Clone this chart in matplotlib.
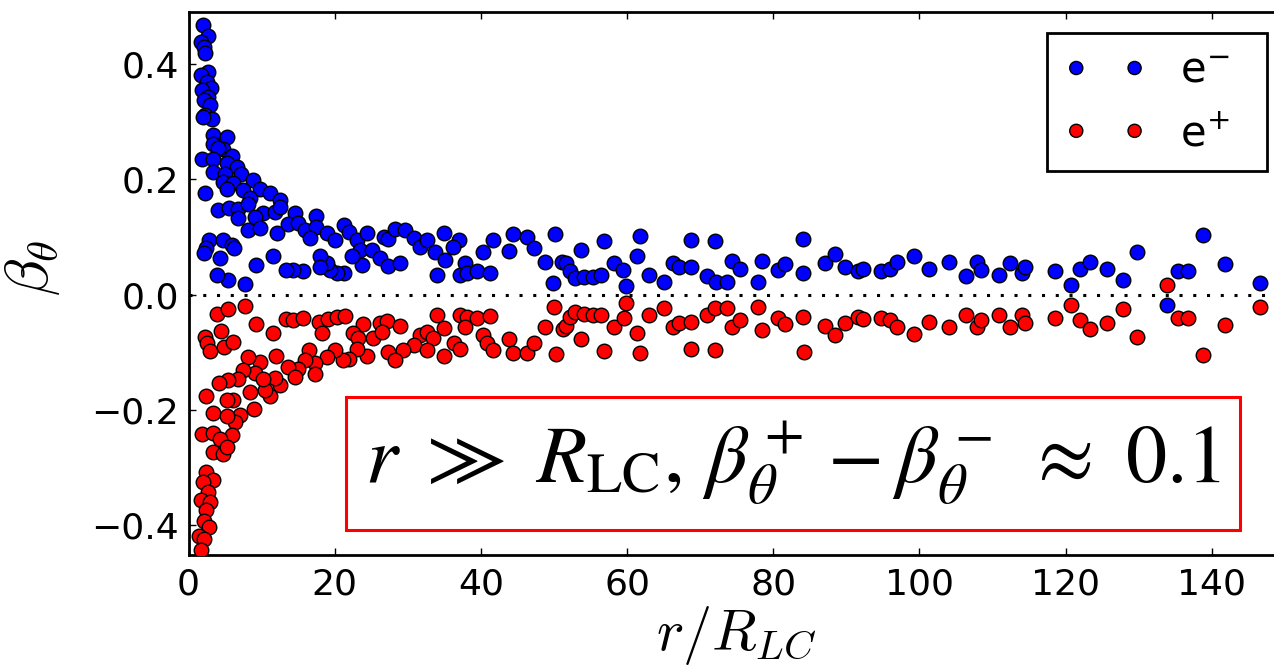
import matplotlib
matplotlib.use("Agg")
import matplotlib.pyplot as plt
from matplotlib.patches import Rectangle

# e- (blue) : r / R_LC and beta_theta
r_elec = [1.94, 2.7, 1.67, 2.12, 2.26, 2.71, 1.67, 2.49, 3.03, 1.8, 2.71, 2.12, 2.94, 2.26, 3.17, 2.03,
          3.39, 5.2, 3.3, 4.67, 4.08, 5.9, 1.8, 3.3, 5.2, 6.6, 3.39, 5.0, 7.14, 8.87, 4.76, 6.13, 2.26,
          5.22, 7.5, 9.78, 11.15, 8.41, 12.5, 4.08, 5.58, 6.8, 8.18, 10.2, 11.8, 12.5, 6.8, 9.1, 14.6,
          8.18, 9.78, 12.06, 13.65, 15.0, 15.9, 17.4, 17.5, 16.6, 18.9, 20.0, 21.2, 21.9, 23.0, 24.4,
          23.5, 25.1, 26.7, 27.3, 28.2, 29.6, 30.8, 31.7, 32.6, 26.2, 27.3, 28.9, 23.7, 22.3, 21.2,
          20.3, 19.4, 18.9, 18.0, 18.0, 15.7, 14.3, 13.3, 11.5, 9.2, 7.7, 5.45, 3.94, 4.3, 2.85, 2.4,
          2.12, 4.76, 5.9, 6.2,
          34.9, 33.7, 37.0, 36.2, 35.1, 34.0, 37.8, 37.1, 38.1, 39.4, 41.2, 40.3, 41.6, 43.8, 44.4,
          46.3, 47.2, 48.8, 50.1, 49.9, 51.1, 51.7, 52.2, 52.9, 53.7, 54.1, 55.3, 56.4, 56.8, 58.2,
          59.5, 59.9, 61.3, 61.7, 63.0, 65.0, 66.3, 67.1, 68.7, 68.8, 70.9, 72.0, 72.2, 73.6, 74.4,
          75.5, 77.9, 78.4, 80.7, 81.6, 84.0, 84.0, 87.1, 88.4, 89.8,
          91.6, 92.3, 94.7, 96.0, 96.9, 99.2, 101.3, 104.1, 106.4, 107.9, 108.4, 110.9, 112.4, 114.0,
          114.4, 118.5, 120.7, 121.9, 123.3, 125.6, 127.9, 129.8, 133.9, 135.4, 136.8, 138.8, 141.8,
          146.6]
beta_elec = [0.468, 0.448, 0.439, 0.430, 0.419, 0.387, 0.381, 0.369, 0.358, 0.355, 0.343, 0.338, 0.329,
             0.312, 0.304, 0.309, 0.277, 0.273, 0.262, 0.252, 0.254, 0.240, 0.236, 0.236, 0.228, 0.222,
             0.213, 0.210, 0.209, 0.199, 0.196, 0.194, 0.176, 0.184, 0.181, 0.184, 0.177, 0.167, 0.164,
             0.147, 0.150, 0.148, 0.157, 0.141, 0.144, 0.152, 0.132, 0.135, 0.142, 0.112, 0.115, 0.107,
             0.122, 0.124, 0.112, 0.136, 0.118, 0.098, 0.106, 0.095, 0.121, 0.109, 0.095, 0.106, 0.077,
             0.077, 0.099, 0.096, 0.113, 0.112, 0.098, 0.083, 0.095, 0.063, 0.049, 0.054, 0.051, 0.066,
             0.037, 0.037, 0.043, 0.054, 0.066, 0.048, 0.040, 0.043, 0.043, 0.067, 0.051, 0.019, 0.025,
             0.034, 0.063, 0.095, 0.080, 0.072, 0.095, 0.086, 0.080,
             0.106, 0.074, 0.095, 0.083, 0.060, 0.034, 0.055, 0.034, 0.037, 0.040, 0.037, 0.074, 0.095,
             0.076, 0.105, 0.099, 0.080, 0.057, 0.105, 0.020, 0.057, 0.054, 0.040, 0.028, 0.077, 0.030,
             0.031, 0.034, 0.093, 0.055, 0.043, 0.014, 0.067, 0.102, 0.034, 0.022, 0.055, 0.048, 0.047,
             0.095, 0.032, 0.093, 0.022, 0.022, 0.059, 0.044, 0.022, 0.059, 0.043, 0.053, 0.096, 0.038,
             0.054, 0.070, 0.047,
             0.041, 0.044, 0.040, 0.044, 0.057, 0.067, 0.045, 0.057, 0.032, 0.057, 0.043, 0.034, 0.055,
             0.037, 0.048, 0.040, 0.016, 0.044, 0.057, 0.045, 0.025, 0.074, -0.018, 0.040, 0.040, 0.103,
             0.053, 0.020]

# e+ (red)
r_posi = [3.86, 5.45, 7.73, 4.4, 9.23, 11.5, 2.26, 2.57, 2.94, 4.86, 6.13, 13.3, 14.3, 15.6, 17.9, 18.2,
          19.1, 20.3, 21.4, 23.8, 22.5, 23.2, 25.3, 26.2, 27.1, 28.9, 26.4, 31.7, 30.8, 32.6, 33.5, 32.6,
          29.4, 27.3, 28.2, 24.4, 23.0, 21.9, 21.1, 20.0, 18.9, 17.3, 17.3, 16.5, 15.9, 15.0, 13.65,
          14.6, 12.0, 12.5, 11.8, 11.15, 10.5, 9.8, 9.1, 10.2, 8.4, 8.9, 8.2, 7.5, 6.8, 6.1, 5.45, 5.2,
          4.1, 7.0, 6.4, 3.4, 5.2, 5.9, 2.4, 1.8, 3.3, 4.3, 3.39, 4.76, 5.2, 2.4, 3.3, 2.0, 2.7, 1.67,
          3.0, 2.4, 2.1, 2.85, 1.48, 2.16, 1.67,
          34.0, 35.0, 34.9, 36.3, 37.1, 37.2, 38.1, 37.8, 39.4, 41.2, 40.3, 40.8, 41.6, 43.8, 44.4,
          46.3, 47.2, 48.8, 50.0, 50.3, 51.2, 51.7, 52.2, 52.9, 54.1, 55.4, 56.4, 53.7, 56.8, 58.2,
          59.6, 59.9, 61.3, 61.7, 63.0, 65.0, 66.3, 67.1, 68.7, 68.8, 70.9, 72.0, 72.0, 73.6, 74.4,
          75.5, 77.9, 78.4, 80.7, 81.6, 84.0, 84.2, 87.1, 88.4, 89.8,
          91.6, 92.3, 94.7, 96.0, 96.9, 99.2, 101.3, 104.1, 106.4, 107.9, 108.4, 110.9, 112.4, 114.0,
          114.4, 118.5, 120.7, 121.9, 123.3, 125.6, 127.9, 129.8, 133.9, 135.4, 136.8, 138.8, 141.8,
          146.6]
beta_posi = [-0.034, -0.026, -0.020, -0.063, -0.051, -0.066, -0.073, -0.084, -0.098, -0.092, -0.082,
             -0.043, -0.044, -0.040, -0.047, -0.066, -0.043, -0.039, -0.037, -0.051, -0.067, -0.076,
             -0.076, -0.050, -0.046, -0.055, -0.065, -0.070, -0.088, -0.065, -0.076, -0.096, -0.096,
             -0.099, -0.114, -0.107, -0.095, -0.112, -0.114, -0.096, -0.108, -0.119, -0.138, -0.096,
             -0.114, -0.130, -0.125, -0.143, -0.107, -0.157, -0.145, -0.177, -0.165, -0.117, -0.136,
             -0.147, -0.169, -0.198, -0.108, -0.131, -0.147, -0.183, -0.148, -0.183, -0.153, -0.209,
             -0.221, -0.206, -0.211, -0.244, -0.176, -0.242, -0.240, -0.250, -0.273, -0.277, -0.264,
             -0.308, -0.322, -0.325, -0.342, -0.356, -0.361, -0.374, -0.393, -0.404, -0.419, -0.425,
             -0.444,
             -0.036, -0.059, -0.107, -0.084, -0.095, -0.036, -0.039, -0.056, -0.040, -0.037, -0.070,
             -0.085, -0.096, -0.078, -0.102, -0.101, -0.084, -0.056, -0.021, -0.103, -0.060, -0.055,
             -0.039, -0.030, -0.033, -0.036, -0.036, -0.078, -0.098, -0.056, -0.041, -0.015, -0.067,
             -0.102, -0.036, -0.024, -0.056, -0.050, -0.047, -0.095, -0.036, -0.024, -0.096, -0.024,
             -0.056, -0.044, -0.021, -0.062, -0.041, -0.051, -0.039, -0.099, -0.055, -0.070, -0.049,
             -0.039, -0.043, -0.040, -0.044, -0.056, -0.069, -0.047, -0.056, -0.036, -0.056, -0.044,
             -0.036, -0.056, -0.036, -0.049, -0.040, -0.018, -0.045, -0.060, -0.049, -0.026, -0.074,
             0.016, -0.040, -0.040, -0.105, -0.053, -0.021]

x_ticks = [0, 20, 40, 60, 80, 100, 120, 140]
y_ticks = [-0.4, -0.2, 0.0, 0.2, 0.4]


def main():
    fig = plt.figure(figsize=(12.74, 6.69), dpi=100)
    # right spine sits just outside the picture, as in the cropped original
    ax = fig.add_axes([0.148, 0.1706, 0.86, 0.8111])

    ax.axhline(0.0, color='black', lw=2.2, linestyle=(0, (1, 3.5)), zorder=1)
    ax.scatter(r_elec, beta_elec, s=110, c='blue', edgecolors='black', linewidths=1.0,
               label=r'$\mathregular{e^{-}}$', zorder=3)
    ax.scatter(r_posi, beta_posi, s=110, c='red', edgecolors='black', linewidths=1.0,
               label=r'$\mathregular{e^{+}}$', zorder=3)

    ax.set_xlim(0, 149.9)
    ax.set_ylim(-0.452, 0.490)
    ax.set_xticks(x_ticks)
    ax.set_yticks(y_ticks)
    ax.tick_params(direction='in', length=5, width=1, top=True, right=True, labelsize=26)
    ax.tick_params(axis='x', pad=9)
    ax.tick_params(axis='y', pad=7)
    for sp in ax.spines.values():
        sp.set_linewidth(2)

    ax.set_xlabel(r'$r/R_{LC}$', fontsize=42, math_fontfamily='cm', labelpad=2)
    ax.set_ylabel(r'$\beta_\theta$', fontsize=44, math_fontfamily='cm')
    ax.yaxis.set_label_coords(-0.1155, 0.529)

    # expand mode gives the wider frame of the original legend
    leg = ax.legend(loc='upper left', bbox_to_anchor=(0.7836, 0.5, 0.2008, 0.4619),
                    mode='expand', borderaxespad=0,
                    scatterpoints=2, scatteryoffsets=[0.5], fontsize=30, fancybox=False,
                    framealpha=1, edgecolor='black', handlelength=2.0, markerscale=0.9,
                    borderpad=0.4, handletextpad=0.8)
    leg.get_frame().set_linewidth(2)

    # red framed annotation
    box = Rectangle((0.1438, 0.0459), 0.8159, 0.2451, transform=ax.transAxes,
                    fc='white', ec='red', lw=2.2, zorder=4)
    ax.add_patch(box)
    ax.text(0.5518, 0.1685,
            r'$r\ \gg\ R_{\mathrm{LC}},\, \beta_\theta^+ - \beta_\theta^-\ \approx\ 0.1$',
            transform=ax.transAxes, ha='center', va='center', fontsize=59,
            math_fontfamily='stix', zorder=5)

    fig.savefig('out.png', dpi=100)


if __name__ == '__main__':
    main()
